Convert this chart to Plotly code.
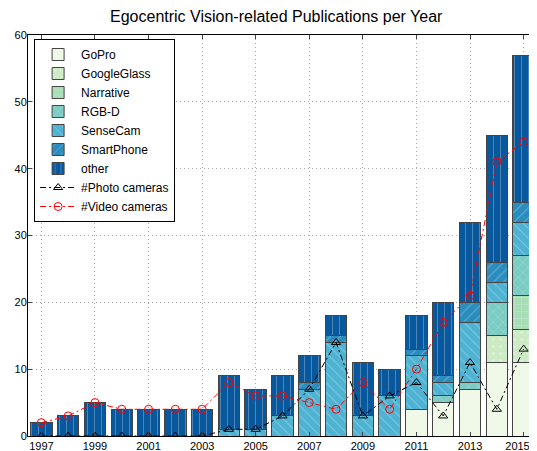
import plotly.graph_objects as go

years = list(range(1997, 2016))
gopro       = [0, 0, 0, 0, 0, 0, 0, 0, 0, 0, 0, 0, 0, 0, 4, 5, 7, 11, 11]
googleglass = [0, 0, 0, 0, 0, 0, 0, 0, 0, 0, 0, 0, 0, 0, 0, 0, 0, 4, 5]
narrative   = [0, 0, 0, 0, 0, 0, 0, 0, 0, 0, 0, 0, 0, 0, 0, 0, 0, 0, 5]
rgbd        = [0, 0, 0, 0, 0, 0, 0, 0, 0, 0, 0, 0, 0, 0, 0, 1, 1, 5, 6]
sensecam    = [0, 0, 0, 0, 0, 0, 0, 1, 1, 3, 7, 14, 3, 6, 8, 2, 9, 3, 5]
smartphone  = [0, 0, 0, 0, 0, 0, 0, 0, 0, 0, 1, 1, 0, 0, 1, 1, 3, 3, 3]
other       = [2, 3, 5, 4, 4, 4, 4, 8, 6, 6, 4, 3, 8, 4, 5, 11, 12, 19, 22]
photo_cams  = [0, 0, 0, 0, 0, 0, 0, 1, 1, 3, 7, 14, 3, 6, 8, 3, 11, 4, 13]
video_cams  = [2, 3, 5, 4, 4, 4, 4, 8, 6, 6, 5, 4, 8, 4, 10, 17, 21, 41, 44]
xticks = list(range(1997, 2016, 2))
xticklabels = ["1997", "1999", "2001", "2003", "2005", "2007", "2009", "2011", "2013",
               "2015\u00a0\u00a0\u00a0\u00a0"]
yticks = [0, 10, 20, 30, 40, 50, 60]

series = [
    ("GoPro", gopro, "#f0f9e8", ""),
    ("GoogleGlass", googleglass, "#ccebc5", "."),
    ("Narrative", narrative, "#a8ddb5", "+"),
    ("RGB-D", rgbd, "#7bccc4", "x"),
    ("SenseCam", sensecam, "#4eb3d3", "\\"),
    ("SmartPhone", smartphone, "#2b8cbe", "/"),
    ("other", other, "#08589e", "|"),
]

fig = go.Figure()
for name, vals, color, shape in series:
    fig.add_trace(go.Bar(
        x=years, y=vals, name=name, width=0.8,
        marker=dict(color=color, line=dict(color="#444444", width=1),
                    pattern=dict(shape=shape, fgcolor="rgba(255,255,255,0.55)",
                                 fillmode="overlay", size=7, solidity=0.15)),
    ))

fig.add_trace(go.Scatter(
    x=years, y=photo_cams, name="#Photo cameras", mode="lines+markers",
    line=dict(color="black", width=1, dash="6px,3px,2px,3px"),
    marker=dict(symbol="triangle-up-open", size=8, color="black", line=dict(width=1)),
))
fig.add_trace(go.Scatter(
    x=years, y=video_cams, name="#Video cameras", mode="lines+markers",
    line=dict(color="red", width=1, dash="6px,3px,2px,3px"),
    marker=dict(symbol="circle-open", size=8, color="red", line=dict(width=1)),
))

# page body has an 8px default margin, so the figure is sized to fit the window
fig.update_layout(
    width=529, height=443,
    barmode="stack", bargap=0.2,
    paper_bgcolor="white", plot_bgcolor="white",
    margin=dict(l=20, r=0, t=27, b=15, autoexpand=False),
    font=dict(family="Liberation Sans, Arial, sans-serif", size=11, color="black"),
    title=dict(text="Egocentric Vision-related Publications per Year",
               x=0.507, xanchor="center", y=0.98, yanchor="middle",
               font=dict(size=16, color="black")),
    showlegend=True,
    legend=dict(x=0.012, y=0.99, xanchor="left", yanchor="top",
                bgcolor="white", bordercolor="black", borderwidth=1,
                traceorder="normal", font=dict(size=12), itemwidth=36),
    xaxis=dict(range=[1996.5, 2015.5], tickvals=xticks, ticktext=xticklabels,
               ticks="inside", ticklen=4, ticklabeloverflow="allow",
               showline=True, linecolor="black", linewidth=1, mirror="ticks",
               showgrid=True, gridcolor="#a8a8a8", griddash="1px,3px", gridwidth=1,
               zeroline=False, tickfont=dict(size=11), automargin=False,
               ticklabelstandoff=0),
    yaxis=dict(range=[0, 60], tickvals=yticks, ticks="inside", ticklen=4,
               showline=True, linecolor="black", linewidth=1, mirror="ticks",
               showgrid=True, gridcolor="#a8a8a8", griddash="1px,3px", gridwidth=1,
               zeroline=False, tickfont=dict(size=11), automargin=False,
               ticklabelstandoff=-2),
)

fig.write_html("out.html")
